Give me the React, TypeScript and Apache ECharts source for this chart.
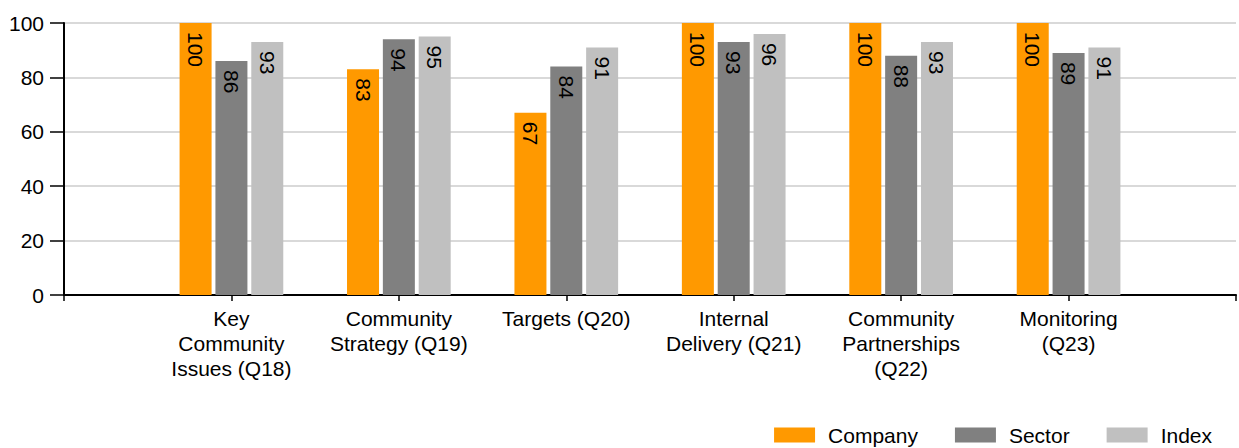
import React, { useEffect, useRef } from "react";
import * as echarts from "echarts";

const categories = [
  "Key\nCommunity\nIssues (Q18)",
  "Community\nStrategy (Q19)",
  "Targets (Q20)",
  "Internal\nDelivery (Q21)",
  "Community\nPartnerships\n(Q22)",
  "Monitoring\n(Q23)",
];
const company = [100, 83, 67, 100, 100, 100];
const sector = [86, 94, 84, 93, 88, 89];
const indexVals = [93, 95, 91, 96, 93, 91];
const yTicks = { min: 0, max: 100, interval: 20 };

const FONT = "'Liberation Sans', Arial, sans-serif";

export default function App() {
  const ref = useRef<HTMLDivElement>(null);
  useEffect(() => {
    if (!ref.current) return;
    const chart = echarts.init(ref.current, undefined, { renderer: "svg" });
    const cats = ["", ...categories, ""];
    const pad = (a: number[]) => [null, ...a, null];
    const label = {
      show: true,
      position: "insideTop",
      rotate: -90,
      align: "left",
      verticalAlign: "middle",
      distance: 9,
      color: "#000",
      fontSize: 21,
      fontFamily: FONT,
    };
    const mk = (name: string, data: number[], color: string) => ({
      name,
      type: "bar",
      data: pad(data),
      barWidth: 32,
      barGap: "12%",
      itemStyle: { color },
      label,
    });
    chart.setOption({
      animation: false,
      textStyle: { fontFamily: FONT },
      grid: { left: 64, right: 0, top: 23, bottom: 153, containLabel: false },
      legend: {
        right: 27,
        top: 424,
        padding: 0,
        itemWidth: 41,
        itemHeight: 15,
        itemGap: 37,
        icon: "rect",
        textStyle: { fontSize: 21, lineHeight: 22, color: "#000", fontFamily: FONT, padding: [0, 0, 0, 8] },
        data: ["Company", "Sector", "Index"],
      },
      xAxis: {
        type: "category",
        data: cats,
        boundaryGap: false,
        axisLine: { lineStyle: { color: "#000", width: 2 } },
        axisTick: { show: true, length: 6, lineStyle: { color: "#000", width: 1.5 }, interval: 0 },
        axisLabel: {
          interval: 0,
          color: "#000",
          fontSize: 21,
          lineHeight: 25,
          margin: 11,
          fontFamily: FONT,
        },
        splitLine: { show: false },
      },
      yAxis: {
        type: "value",
        min: yTicks.min,
        max: yTicks.max,
        interval: yTicks.interval,
        axisLine: { show: true, lineStyle: { color: "#000", width: 2 } },
        axisTick: { show: true, length: 14, lineStyle: { color: "#000", width: 1.5 } },
        axisLabel: { color: "#000", fontSize: 21, margin: 20, fontFamily: FONT },
        splitLine: { lineStyle: { color: "#d9d9d9", width: 2 } },
      },
      series: [
        mk("Company", company, "#FF9900"),
        mk("Sector", sector, "#808080"),
        mk("Index", indexVals, "#C0C0C0"),
      ],
    });
    return () => chart.dispose();
  }, []);
  return <div ref={ref} style={{ width: 1239, height: 448, position: "absolute", left: 0, top: 0 }} />;
}
